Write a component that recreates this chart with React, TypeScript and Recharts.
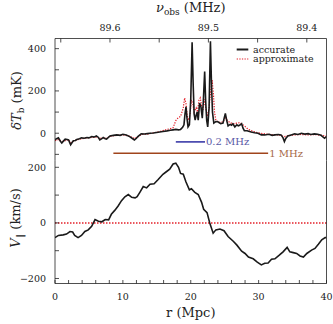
import React from 'react'
import { LineChart, Line, XAxis, YAxis, ReferenceLine, Legend } from 'recharts'

const font = '"DejaVu Serif", "Liberation Serif", serif'
const ink = '#222'

// top panel: brightness temperature along the line of sight
const rAccurate = [
  0, 0.3, 0.5, 0.8, 1.0, 1.3, 1.5, 1.8, 2.0, 2.3,
  2.5, 2.7, 3.0, 3.2, 3.6, 3.9, 4.3, 4.7, 5.0, 5.4,
  5.8, 6.1, 6.4, 6.6, 6.9, 7.1, 7.4, 7.6, 8.1, 8.6,
  9.1, 9.6, 10.0, 10.5, 11.0, 11.4, 11.7, 12.0, 12.2, 12.7,
  13.2, 13.6, 14.0, 14.5, 15.2, 15.9, 16.5, 17.0, 17.4, 17.8,
  18.2, 18.5, 18.8, 19.0, 19.15, 19.3, 19.45, 19.6, 19.8, 20.0,
  20.2, 20.35, 20.5, 20.65, 20.8, 20.95, 21.1, 21.3, 21.5, 21.7,
  21.85, 22.05, 22.2, 22.35, 22.5, 22.7, 22.9, 23.05, 23.2, 23.4,
  23.7, 24.0, 24.4, 24.75, 24.95, 25.1, 25.3, 25.5, 25.8, 26.0,
  26.2, 26.5, 26.8, 27.0, 27.2, 27.5, 27.7, 27.9, 28.3, 28.9,
  29.4, 29.9, 30.4, 30.9, 31.5, 32.0, 32.4, 32.9, 33.3, 33.6,
  33.8, 34.0, 34.3, 34.8, 35.3, 35.8, 36.3, 36.8, 37.3, 37.7,
  38.2, 38.7, 39.2, 39.5, 39.7, 40,
]
const dTbAccurate = [
  -30, -25, -22, -38, -46, -35, -28, -30, -32, -55,
  -45, -36, -34, -30, -26, -22, -24, -20, -22, -16,
  -18, -13, -20, -32, -26, -20, -26, -28, -13, -10,
  -8, -10, -5, -8, -16, -25, -32, -24, -16, -3,
  -4, -2, 0, 1, 5, 8, 11, 14, 16, 18,
  16, 18, 28, 40, 90, 125, 70, 30, 40, 160,
  430, 240, 90, 62, 85, 101, 62, 143, 125, 71,
  150, 292, 150, 60, 30, 120, 435, 240, 100, 48,
  55, 54, 45, 48, 75, 94, 60, 35, 42, 38,
  45, 30, 40, 35, 38, 45, 24, 12, 12, 6,
  2, 0, -8, -8, -5, -10, -8, -6, -8, -22,
  -40, -25, -13, -8, -3, -6, 0, -4, -2, -6,
  -3, -5, -10, -18, -24, -16,
]
const rApprox = [
  0, 0.5, 1.0, 1.5, 2.0, 2.3, 2.7, 3.2, 3.9, 4.7,
  5.4, 6.1, 6.6, 7.1, 7.6, 8.1, 9.1, 10.0, 11.0, 11.7,
  12.2, 12.7, 13.6, 14.5, 15.2, 15.9, 16.5, 17.0, 17.4, 17.8,
  18.1, 18.5, 18.9, 19.1, 19.3, 19.5, 19.7, 19.9, 20.1, 20.3,
  20.5, 20.8, 21.0, 21.2, 21.4, 21.6, 21.8, 22.0, 22.2, 22.45,
  22.7, 22.95, 23.15, 23.35, 23.5, 23.7, 24.0, 24.4, 24.8, 25.1,
  25.4, 25.8, 26.3, 26.8, 27.3, 27.9, 28.4, 28.9, 29.9, 30.9,
  31.9, 32.9, 33.8, 34.3, 35.3, 36.3, 37.3, 38.3, 39.2, 39.7, 40,
]
const dTbApprox = [
  -35, -30, -40, -35, -30, -45, -38, -32, -26, -22,
  -20, -18, -25, -22, -24, -15, -10, -8, -14, -25,
  -18, -6, -4, 2, 6, 12, 18, 22, 26, 60,
  71, 80, 119, 167, 140, 80, 62, 90, 157, 140,
  100, 120, 100, 155, 167, 130, 110, 160, 120, 80,
  120, 205, 252, 180, 100, 60, 55, 50, 55, 78,
  60, 50, 45, 48, 50, 35, 20, 12, 2, -3,
  -6, -8, -16, -12, -8, -6, -8, -6, -10, -13, -15,
]

// bottom panel: peculiar velocity
const rVel = [
  0, 0.5, 1.2, 1.7, 2.2, 2.6, 2.9, 3.4, 3.9, 4.4,
  4.9, 5.4, 5.9, 6.4, 6.9, 7.4, 7.9, 8.3, 8.8, 9.3,
  9.8, 10.3, 10.8, 11.3, 11.8, 12.1, 12.5, 13.0, 13.5, 14.0,
  14.6, 15.2, 15.9, 16.4, 16.9, 17.4, 17.8, 18.2, 18.5, 18.9,
  19.3, 19.8, 20.1, 20.6, 21.1, 21.6, 21.9, 22.4, 22.8, 23.3,
  23.7, 24.3, 24.9, 25.5, 26.3, 26.8, 27.5, 28.0, 28.5, 29.2,
  29.8, 30.4, 30.9, 31.4, 31.9, 32.4, 33.0, 33.6, 34.2, 34.6,
  35.1, 35.6, 36.1, 36.6, 37.1, 37.8, 38.3, 38.8, 39.3, 39.8, 40,
]
const vPar = [
  -53, -45, -43, -40, -31, -33, -45, -53, -45, -31,
  -25, -12, 12, 6, 4, 12, 11, 31, 45, 61,
  80, 94, 102, 92, 90, 94, 110, 131, 126, 139,
  141, 156, 175, 184, 193, 212, 215, 200, 178, 175,
  147, 119, 123, 110, 102, 74, 49, 37, 0, -37,
  -25, -22, -28, -49, -67, -80, -102, -110, -123, -129,
  -141, -151, -145, -144, -131, -129, -117, -104, -88, -104,
  -107, -110, -119, -123, -110, -98, -92, -77, -61, -53, -53,
]

// scale bars drawn under the peaks
const barLabels = ['0.2 MHz', '1 MHz']
const barFrom = [17.8, 8.6]
const barTo = [22.1, 31.4]
const barLevel = [-41, -95]
const barColors = ['#3b3ba8', '#a0441c']
const barTextColors = ['#5a5aa6', '#a66a48']

// axes
const rTicks = [0, 2, 4, 6, 8, 10, 12, 14, 16, 18, 20, 22, 24, 26, 28, 30, 32, 34, 36, 38, 40]
const nuTicks = [89.65, 89.6, 89.55, 89.5, 89.45, 89.4]
const nuLabelled = [89.6, 89.5, 89.4]
const tbTicks = [-100, 0, 100, 200, 300, 400]
const tbLabelled = [0, 200, 400]
const vTicks = [-200, -100, 0, 100, 200]
const vLabelled = [-200, 0, 200]
const tbDomain = [-129, 448]
const vDomain = [-218, 224.5]

const nuToR = (nu: number) => 8.1 + (89.6 - nu) * 145
const rToNu = (r: number) => 89.6 - (r - 8.1) / 145

const zip = (xs: number[], ys: number[]) =>
  xs.slice(0, Math.min(xs.length, ys.length)).map((r, i) => ({ r, v: ys[i] }))

const accurateData = zip(rAccurate, dTbAccurate)
const approxData = zip(rApprox, dTbApprox)
const velData = zip(rVel, vPar)

const fmtNum = (v: number) => (v < 0 ? '\u2212' + Math.abs(v) : String(v))
const tickStyle = { fontSize: 9.5, fill: ink, fontFamily: font }
const frame = { stroke: ink, strokeWidth: 0.8 }

function NuTitle({ viewBox }: any) {
  const { x, width } = viewBox
  return (
    <text x={x + width / 2} y={12} textAnchor="middle" fontFamily={font} fontSize={13} fill={ink}>
      <tspan fontStyle="italic">ν</tspan>
      <tspan fontSize={9} dy={3}>obs</tspan>
      <tspan dy={-3}> (MHz)</tspan>
    </text>
  )
}

function RTitle({ viewBox }: any) {
  const { x, y, width } = viewBox
  return (
    <text x={x + width / 2} y={y + 33.5} textAnchor="middle" fontFamily={font} fontSize={13} fill={ink}>
      r (Mpc)
    </text>
  )
}

function TbTitle({ viewBox }: any) {
  const { x, y, height } = viewBox
  return (
    <text transform={`translate(${x + 21},${y + height / 2 + 1}) rotate(-90)`} textAnchor="middle"
      fontFamily={font} fontSize={13} fill={ink}>
      <tspan fontStyle="italic">δT</tspan>
      <tspan fontSize={9} dy={3}>b</tspan>
      <tspan dy={-3}> (mK)</tspan>
    </text>
  )
}

function VTitle({ viewBox }: any) {
  const { x, y, height } = viewBox
  return (
    <text transform={`translate(${x + 20},${y + height / 2 - 4}) rotate(-90)`} textAnchor="middle"
      fontFamily={font} fontSize={13} fill={ink}>
      <tspan fontStyle="italic">V</tspan>
      <tspan fontSize={9} dy={3}>‖</tspan>
      <tspan dy={-3}> (km/s)</tspan>
    </text>
  )
}

function LegendBox() {
  return (
    <svg width={100} height={24} style={{ display: 'block' }}>
      <line x1={2.7} x2={14.3} y1={5.5} y2={5.5} stroke="#1a1a1a" strokeWidth={2} />
      <text x={19} y={8.8} fontFamily={font} fontSize={9.5} fill={ink}>accurate</text>
      <line x1={2.7} x2={14.3} y1={15} y2={15} stroke="#e3202a" strokeWidth={1.2} strokeDasharray="1.3 1.3" />
      <text x={19} y={18.3} fontFamily={font} fontSize={9.5} fill={ink}>approximate</text>
    </svg>
  )
}

function TemperaturePanel() {
  return (
    <LineChart width={333} height={161} margin={{ top: 0, right: 0, bottom: 0.5, left: 0 }}>
      <XAxis xAxisId="nu" orientation="top" type="number" dataKey="r" domain={[0, 40]} allowDataOverflow
        ticks={nuTicks.map(nuToR)} interval={0} height={38.5} tickSize={-4} tickMargin={12}
        tickFormatter={(r: number) => {
          const nu = rToNu(r)
          const hit = nuLabelled.find(n => Math.abs(n - nu) < 0.002)
          return hit === undefined ? '' : hit.toFixed(1)
        }}
        tick={tickStyle} tickLine={frame} axisLine={frame} label={<NuTitle />} />
      <XAxis xAxisId="r" type="number" dataKey="r" domain={[0, 40]} allowDataOverflow
        ticks={rTicks} interval={0} height={0} tickSize={-3.5} tick={false}
        tickLine={frame} axisLine={frame} />
      <YAxis yAxisId="left" type="number" domain={tbDomain} allowDataOverflow ticks={tbTicks} interval={0}
        width={55} tickSize={-4} tickMargin={13}
        tickFormatter={(v: number) => (tbLabelled.includes(v) ? fmtNum(v) : '')}
        tick={tickStyle} tickLine={frame} axisLine={frame} label={<TbTitle />} />
      <YAxis yAxisId="right" orientation="right" type="number" domain={tbDomain} allowDataOverflow
        ticks={tbTicks} interval={0} width={6.5} tickSize={-4} tick={false}
        tickLine={frame} axisLine={frame} />
      {barLabels.map((label, i) => (
        <ReferenceLine key={label} xAxisId="r" yAxisId="left"
          segment={[{ x: barFrom[i], y: barLevel[i] }, { x: barTo[i], y: barLevel[i] }]}
          stroke={barColors[i]} strokeWidth={1.6}
          label={{ value: label, position: 'right', offset: 1, fill: barTextColors[i], fontSize: 10, fontFamily: font }} />
      ))}
      <Line xAxisId="nu" yAxisId="right" data={approxData} dataKey="v" type="linear" dot={false}
        stroke="#e3202a" strokeWidth={1.2} strokeDasharray="1.3 1.3" isAnimationActive={false} />
      <Line xAxisId="r" yAxisId="left" data={accurateData} dataKey="v" type="linear" dot={false}
        stroke="#1a1a1a" strokeWidth={1.6} isAnimationActive={false} />
      <Legend layout="horizontal" verticalAlign="middle" align="center"
        wrapperStyle={{ position: 'absolute', left: 234, top: 44, width: 100 }} content={<LegendBox />} />
    </LineChart>
  )
}

function VelocityPanel() {
  return (
    <LineChart width={333} height={164} margin={{ top: 0.5, right: 0, bottom: 0, left: 0 }}>
      <XAxis xAxisId="r" type="number" dataKey="r" domain={[0, 40]} allowDataOverflow
        ticks={rTicks} interval={0} height={40.5} tickSize={-3.5} tickMargin={13.5}
        tickFormatter={(r: number) => (r % 10 === 0 ? String(r) : '')}
        tick={tickStyle} tickLine={frame} axisLine={frame} label={<RTitle />} />
      <XAxis xAxisId="rTop" orientation="top" type="number" dataKey="r" domain={[0, 40]} allowDataOverflow
        ticks={rTicks} interval={0} height={0} tickSize={-3.5} tick={false}
        tickLine={frame} axisLine={frame} />
      <YAxis yAxisId="v" type="number" domain={vDomain} allowDataOverflow ticks={vTicks} interval={0}
        width={55} tickSize={-4} tickMargin={13}
        tickFormatter={(v: number) => (vLabelled.includes(v) ? fmtNum(v) : '')}
        tick={tickStyle} tickLine={frame} axisLine={frame} label={<VTitle />} />
      <YAxis yAxisId="vRight" orientation="right" type="number" domain={vDomain} allowDataOverflow
        ticks={vTicks} interval={0} width={6.5} tickSize={-4} tick={false}
        tickLine={frame} axisLine={frame} />
      <ReferenceLine xAxisId="r" yAxisId="v" y={0} stroke="#e3202a" strokeWidth={1.5} strokeDasharray="1.5 1.5" />
      <Line xAxisId="r" yAxisId="v" data={velData} dataKey="v" type="linear" dot={false}
        stroke="#1a1a1a" strokeWidth={1.6} isAnimationActive={false} />
    </LineChart>
  )
}

export default function App() {
  return (
    <div style={{ position: 'absolute', left: 0, top: 0, width: 333, height: 324, background: '#fff' }}>
      <div style={{ position: 'absolute', left: 0, top: 0 }}>
        <TemperaturePanel />
      </div>
      <div style={{ position: 'absolute', left: 0, top: 160 }}>
        <VelocityPanel />
      </div>
    </div>
  )
}
